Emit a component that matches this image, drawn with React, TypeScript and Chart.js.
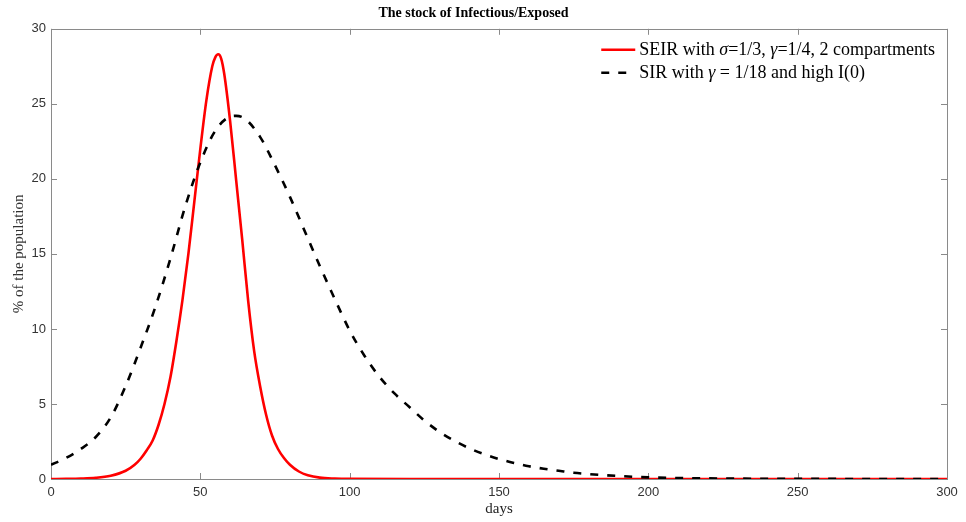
import React, { useEffect, useRef } from 'react';
import { Chart, registerables } from 'chart.js';

Chart.register(...registerables);

// ---- data ----
const seirDays = [0, 5, 10, 15, 20, 25, 28, 30, 32, 34, 36, 38, 40, 42, 44, 46, 48, 50, 52, 54, 55, 56, 57, 58, 60, 62, 64, 66, 68, 70, 72, 74, 76, 78, 80, 83, 86, 90, 95, 100, 120, 150, 200, 250, 300];
const seirValues = [0, 0.01, 0.03, 0.08, 0.22, 0.55, 0.95, 1.35, 1.9, 2.55, 3.6, 5.0, 6.8, 9.2, 11.9, 15.0, 18.5, 22.0, 25.2, 27.5, 28.1, 28.3, 28.0, 27.0, 23.8, 19.9, 16.0, 11.9, 8.55, 6.2, 4.3, 2.9, 2.0, 1.4, 0.95, 0.5, 0.25, 0.09, 0.03, 0.01, 0, 0, 0, 0, 0];

const sirDays = [0, 5, 10, 15, 20, 25, 30, 35, 40, 45, 50, 55, 60, 62, 65, 70, 75, 80, 85, 90, 95, 100, 105, 110, 115, 120, 125, 130, 135, 140, 145, 150, 155, 160, 165, 170, 175, 180, 185, 190, 195, 200, 210, 220, 230, 240, 250, 260, 280, 300];
const sirValues = [0.95, 1.4, 2.0, 2.8, 4.1, 6.2, 8.75, 11.5, 14.7, 18.2, 21.1, 23.2, 24.15, 24.2, 24.0, 22.8, 20.9, 18.8, 16.5, 14.2, 12.0, 9.9, 8.2, 6.8, 5.7, 4.8, 3.9, 3.15, 2.55, 2.05, 1.65, 1.33, 1.07, 0.85, 0.68, 0.55, 0.42, 0.33, 0.26, 0.2, 0.15, 0.11, 0.065, 0.04, 0.025, 0.015, 0.01, 0.006, 0.003, 0.001];

const seriesLabels = ['SEIR with σ=1/3, γ=1/4, 2 compartments', 'SIR with γ = 1/18 and high I(0)'];
const chartTitle = 'The stock of Infectious/Exposed';
const xTitle = 'days';
const yTitle = '% of the population';
const xMin = 0, xMax = 300, xStep = 50;
const yMin = 0, yMax = 30, yStep = 5;

const SERIF = '"Liberation Serif", "Times New Roman", serif';
const SANS = '"Liberation Sans", Arial, sans-serif';
const AXIS_COLOR = '#8a8a8a';

const framePlugin = {
  id: 'matlabFrame',
  beforeDatasetsDraw(chart: any) {
    const { ctx, chartArea } = chart;
    const { left, right, top, bottom } = chartArea;
    const xs = chart.scales.x;
    const ys = chart.scales.y;
    const tl = 6;
    ctx.save();
    ctx.strokeStyle = AXIS_COLOR;
    ctx.lineWidth = 1;
    ctx.beginPath();
    xs.ticks.forEach((t: any) => {
      const px = Math.round(xs.getPixelForValue(t.value)) + 0.5;
      ctx.moveTo(px, bottom); ctx.lineTo(px, bottom - tl);
      ctx.moveTo(px, top); ctx.lineTo(px, top + tl);
    });
    ys.ticks.forEach((t: any) => {
      const py = Math.round(ys.getPixelForValue(t.value)) + 0.5;
      ctx.moveTo(left, py); ctx.lineTo(left + tl, py);
      ctx.moveTo(right, py); ctx.lineTo(right - tl, py);
    });
    ctx.stroke();
    ctx.strokeRect(Math.round(left) + 0.5, Math.round(top) + 0.5, Math.round(right - left), Math.round(bottom - top));
    ctx.restore();
  },
};

const legendPlugin = {
  id: 'mixedLegend',
  afterDraw(chart: any) {
    const { ctx, chartArea } = chart;
    const size = 18;
    const normal = `${size}px ${SERIF}`;
    const italic = `italic ${size}px ${SERIF}`;
    const runsOf = (s: string) => {
      const runs: { t: string; it: boolean }[] = [];
      for (const ch of s) {
        const it = ch === 'σ' || ch === 'γ';
        if (runs.length && runs[runs.length - 1].it === it) runs[runs.length - 1].t += ch;
        else runs.push({ t: ch, it });
      }
      return runs;
    };
    ctx.save();
    const widthOf = (s: string) => runsOf(s).reduce((w, r) => {
      ctx.font = r.it ? italic : normal;
      return w + ctx.measureText(r.t).width;
    }, 0);
    const sampleLen = 34;
    const gap = 4;
    const textW = Math.max(...chart.data.datasets.map((d: any) => widthOf(d.label)));
    const x0 = chartArea.right - 12 - (sampleLen + gap + textW);
    const rows = [chartArea.top + 21, chartArea.top + 44];
    chart.data.datasets.forEach((d: any, i: number) => {
      const y = rows[i];
      ctx.strokeStyle = d.borderColor;
      ctx.lineWidth = d.borderWidth;
      ctx.setLineDash(d.borderDash || []);
      ctx.beginPath();
      ctx.moveTo(x0, y); ctx.lineTo(x0 + sampleLen, y);
      ctx.stroke();
      ctx.setLineDash([]);
      let x = x0 + sampleLen + gap;
      ctx.fillStyle = '#000';
      ctx.textBaseline = 'middle';
      ctx.textAlign = 'left';
      runsOf(d.label).forEach((r) => {
        ctx.font = r.it ? italic : normal;
        ctx.fillText(r.t, x, y);
        x += ctx.measureText(r.t).width;
      });
    });
    ctx.restore();
  },
};

export default function App() {
  const ref = useRef<HTMLCanvasElement | null>(null);
  useEffect(() => {
    if (!ref.current) return;
    const chart = new Chart(ref.current, {
      type: 'line',
      data: {
        datasets: [
          {
            label: seriesLabels[0],
            data: seirDays.map((d, i) => ({ x: d, y: seirValues[i] })),
            borderColor: '#ff0000',
            borderWidth: 2.6,
            pointRadius: 0,
            cubicInterpolationMode: 'monotone',
            fill: false,
            order: 2,
          },
          {
            label: seriesLabels[1],
            data: sirDays.map((d, i) => ({ x: d, y: sirValues[i] })),
            borderColor: '#000000',
            borderWidth: 2.6,
            borderDash: [8, 9],
            pointRadius: 0,
            cubicInterpolationMode: 'monotone',
            fill: false,
            order: 1,
          },
        ],
      } as any,
      options: {
        animation: false,
        responsive: true,
        maintainAspectRatio: false,
        layout: { padding: { top: 0, right: 19, bottom: 0, left: 0 } },
        plugins: {
          legend: { display: false },
          tooltip: { enabled: false },
          title: {
            display: true,
            text: chartTitle,
            color: '#000',
            font: { family: SERIF, size: 14, weight: 'bold' },
            padding: { top: 5, bottom: 7 },
          },
        },
        scales: {
          x: {
            type: 'linear',
            min: xMin,
            max: xMax,
            grid: { display: false, drawTicks: false },
            border: { display: false },
            ticks: { stepSize: xStep, maxRotation: 0, padding: 6, color: '#333', font: { family: SANS, size: 13 } },
            title: { display: true, text: xTitle, color: '#222', font: { family: SERIF, size: 15 }, padding: { top: 4, bottom: 4 } },
            afterFit: (s: any) => { s.height = 43; },
          },
          y: {
            type: 'linear',
            min: yMin,
            max: yMax,
            grid: { display: false, drawTicks: false },
            border: { display: false },
            ticks: { stepSize: yStep, padding: 5, color: '#333', font: { family: SANS, size: 13 } },
            title: { display: true, text: yTitle, color: '#333', font: { family: SERIF, size: 15 }, padding: { top: 10, bottom: 10 } },
            afterFit: (s: any) => { s.width = 51; },
          },
        },
      } as any,
      plugins: [framePlugin, legendPlugin],
    });
    return () => chart.destroy();
  }, []);
  return (
    <div style={{ position: 'fixed', left: 0, top: 0, width: 966, height: 522, background: '#fff' }}>
      <canvas ref={ref} />
    </div>
  );
}
